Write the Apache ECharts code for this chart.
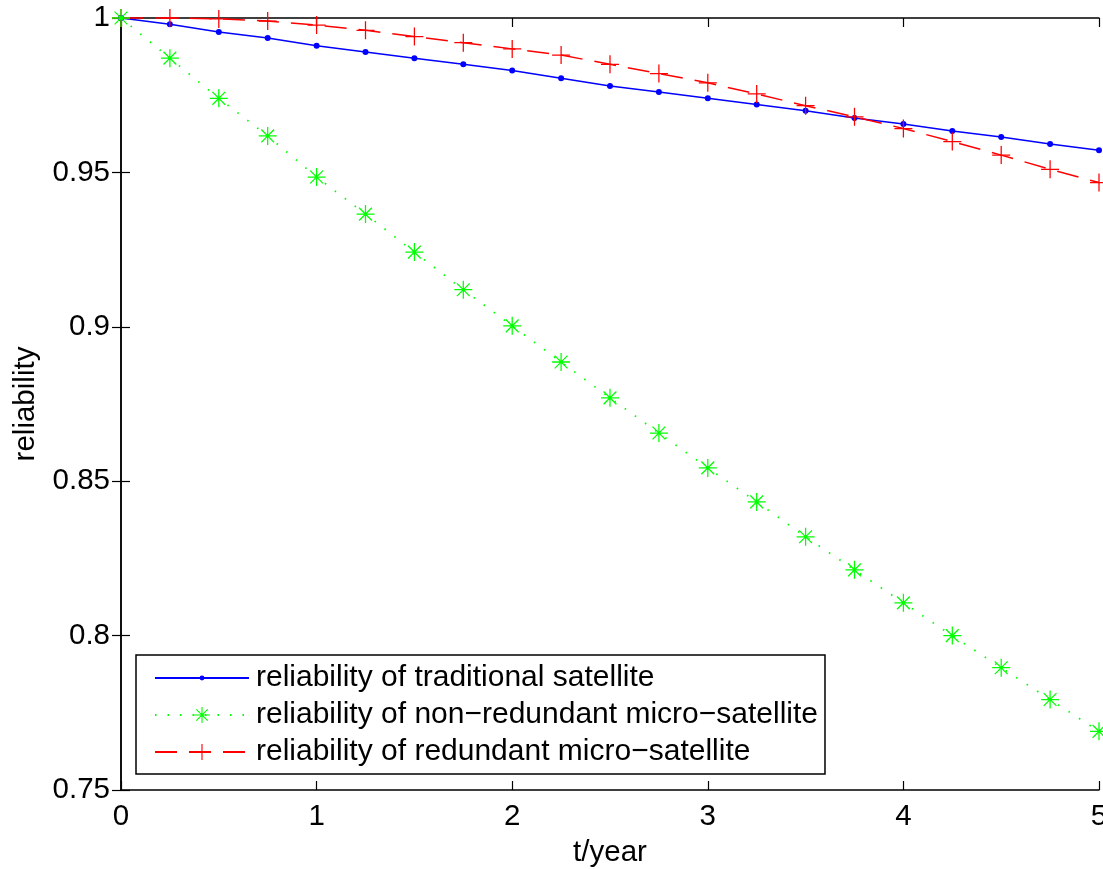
<!DOCTYPE html>
<html>
<head>
<meta charset="utf-8">
<script src="https://cdn.jsdelivr.net/npm/echarts@6/dist/echarts.min.js"></script>
<style>html,body{margin:0;padding:0;background:#fff}#c{width:1103px;height:869px}</style>
</head>
<body>
<div id="c"></div>
<script>
var tValues = [0,0.25,0.5,0.75,1,1.25,1.5,1.75,2,2.25,2.5,2.75,3,3.25,3.5,3.75,4,4.25,4.5,4.75,5];
var traditional = [1,0.998,0.9955,0.9935,0.991,0.989,0.987,0.985,0.983,0.9805,0.978,0.976,0.974,0.972,0.970,0.9676,0.9657,0.9634,0.9615,0.9592,0.9572];
var nonRedundant = [1,0.987,0.974,0.9618,0.9485,0.9365,0.9242,0.912,0.9003,0.8886,0.877,0.8656,0.8543,0.8433,0.832,0.8213,0.8106,0.800,0.7896,0.7793,0.769];
var redundant = [1,1.0,0.9997,0.999,0.9977,0.996,0.994,0.992,0.990,0.988,0.985,0.982,0.979,0.9754,0.9716,0.968,0.9642,0.960,0.9556,0.951,0.9467];
var seriesNames = ['reliability of traditional satellite','reliability of non\u2212redundant micro\u2212satellite','reliability of redundant micro\u2212satellite'];
var xTicks = {min:0, max:5, interval:1};
var yTicks = {min:0.75, max:1, interval:0.05};

function pairs(ys){ return tValues.map(function(t,i){ return [t, ys[i]]; }); }

var FONT = 'Liberation Sans';
var dotPath = 'path://M0 0 M20 20 M10 7 A3 3 0 1 1 10 13 A3 3 0 1 1 10 7 Z';
var starPath = 'path://M0 9.3 H20 V10.7 H0 Z M9.3 0 H10.7 V20 H9.3 Z M3.4 2.4 L17.6 16.6 L16.6 17.6 L2.4 3.4 Z M16.6 2.4 L17.6 3.4 L3.4 17.6 L2.4 16.6 Z';
var plusPath = 'path://M0 9.3 H20 V10.7 H0 Z M9.3 0 H10.7 V20 H9.3 Z';

var chart = echarts.init(document.getElementById('c'), null, {renderer:'canvas'});
var axisBase = {
  type:'value',
  axisLine:{show:true, lineStyle:{color:'#000', width:1.5}},
  axisTick:{show:true, inside:true, length:9, lineStyle:{color:'#000', width:1.2}},
  splitLine:{show:false}
};
function ax(extra){ return Object.assign({}, axisBase, extra); }
chart.setOption({
  animation:false,
  backgroundColor:'#fff',
  grid:{left:121, right:4, top:18, bottom:79, show:false, containLabel:false, outerBoundsMode:'none'},
  xAxis:[
    ax({min:xTicks.min, max:xTicks.max, interval:xTicks.interval, position:'bottom',
      name:'t/year', nameLocation:'middle', nameGap:48,
      nameTextStyle:{color:'#000', fontSize:29.5, fontFamily:FONT},
      axisLabel:{color:'#000', fontSize:29.5, fontFamily:FONT, margin:12}}),
    ax({min:xTicks.min, max:xTicks.max, interval:xTicks.interval, position:'top', axisLabel:{show:false}})
  ],
  yAxis:[
    ax({min:yTicks.min, max:yTicks.max, interval:yTicks.interval, position:'left',
      name:'reliability', nameLocation:'middle', nameGap:80,
      nameTextStyle:{color:'#000', fontSize:29.5, fontFamily:FONT},
      axisLabel:{color:'#000', fontSize:29.5, fontFamily:FONT, margin:11}}),
    ax({min:yTicks.min, max:yTicks.max, interval:yTicks.interval, position:'right', axisLabel:{show:false}})
  ],
  legend:{
    orient:'vertical', left:136, top:655,
    data:seriesNames,
    backgroundColor:'#fff', borderColor:'#000', borderWidth:1.5,
    padding:[8,7,7,18], itemGap:7, itemWidth:94, itemHeight:20,
    textStyle:{color:'#000', fontSize:30, fontFamily:FONT, padding:[0,0,0,2]}
  },
  series:[
    {name:seriesNames[0], type:'line', data:pairs(traditional), clip:false,
      symbol:dotPath, symbolSize:20, showSymbol:true,
      lineStyle:{color:'#0000ff', width:1.5, type:'solid'},
      itemStyle:{color:'#0000ff', borderWidth:0}, z:2},
    {name:seriesNames[2], type:'line', data:pairs(redundant), clip:false,
      symbol:plusPath, symbolSize:18,
      lineStyle:{color:'#ff0000', width:1.5, type:[22,12]},
      itemStyle:{color:'#ff0000', borderWidth:0}, z:3},
    {name:seriesNames[1], type:'line', data:pairs(nonRedundant), clip:false,
      symbol:starPath, symbolSize:18,
      lineStyle:{color:'#00ff00', width:1.8, type:[1.5,11]},
      itemStyle:{color:'#00ff00', borderWidth:0}, z:4}
  ]
});
</script>
</body>
</html>
